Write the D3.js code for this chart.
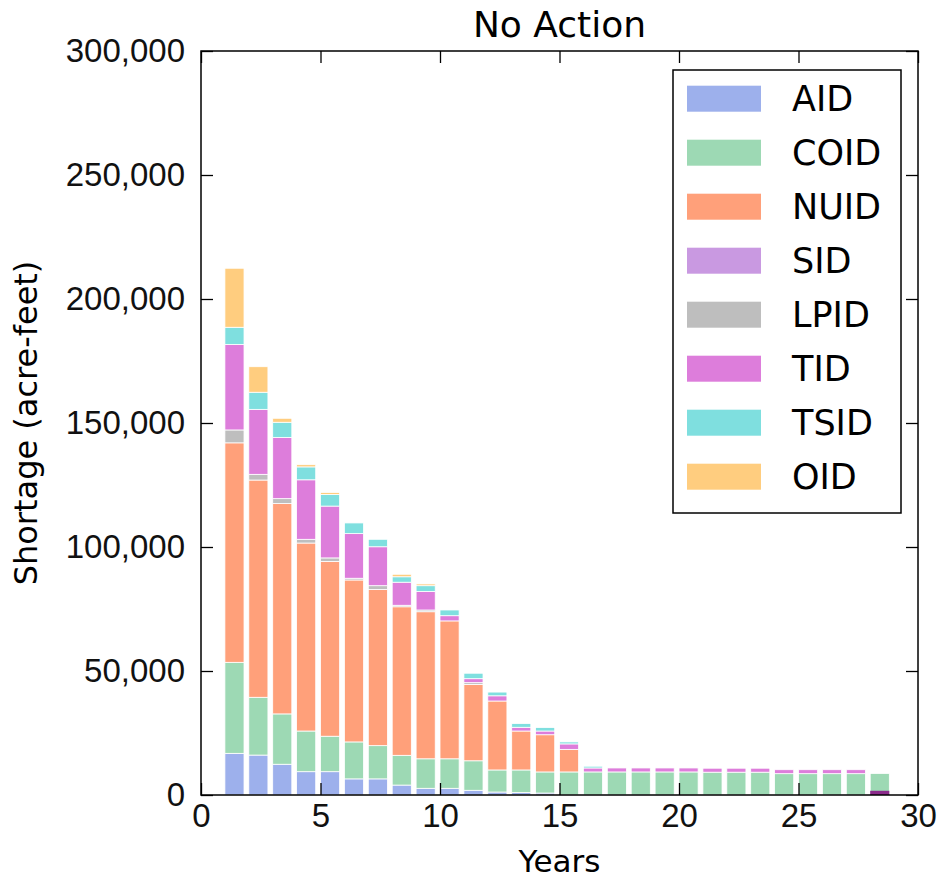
<!DOCTYPE html>
<html>
<head>
<meta charset="utf-8">
<script src="https://cdn.jsdelivr.net/npm/d3@7"></script>
<style>
  body { margin: 0; background: #fff; }
  svg { font-family: "DejaVu Sans", sans-serif; }
  .tick text { font-size: 33px; fill: #111; }
  .tick line { stroke: #000; stroke-width: 1.3; }
</style>
</head>
<body>
<div id="chart"></div>
<script>
var width = 940;
var height = 880;

// Plot area in pixels
var margin = {left: 201, right: 22, top: 51, bottom: 85};

// Districts, in stacking order
var districts = ["AID", "COID", "NUID", "SID", "LPID", "TID", "TSID", "OID"];
var colors = ["#9db0ec", "#9dd9b4", "#ffa07a", "#c999e1", "#bebebe", "#dd7ddb", "#7fdfdf", "#ffcd7f"];

var years = d3.range(1, 29);

// Shortage by district (acre-feet), one value per year 1..28
var aid  = [16800, 16100, 12400, 9400, 9400, 6500, 6500, 4000, 2700, 2700, 1900, 1200, 1000, 800, 0, 0, 0, 0, 0, 0, 0, 0, 0, 0, 0, 0, 0, 0];
var coid = [36700, 23300, 20300, 16400, 14300, 14900, 13400, 12000, 11900, 11900, 11900, 8900, 9100, 8500, 9300, 9300, 9300, 9300, 9300, 9300, 9200, 9200, 9200, 8600, 8600, 8600, 8600, 8700];
var nuid = [88500, 87600, 84800, 75800, 70500, 65300, 63000, 59900, 59300, 55600, 30800, 27800, 15700, 15000, 9100, 0, 0, 0, 0, 0, 0, 0, 0, 0, 0, 0, 0, 0];
var sid  = [0, 0, 0, 0, 0, 0, 0, 0, 0, 0, 0, 0, 0, 0, 0, 0, 0, 0, 0, 0, 0, 0, 0, 0, 0, 0, 0, 0];
var lpid = [5200, 2300, 2000, 1500, 1400, 700, 1500, 600, 700, 0, 700, 0, 0, 0, 0, 0, 0, 0, 0, 0, 0, 0, 0, 0, 0, 0, 0, 0];
var tid  = [34500, 26200, 24700, 24000, 20900, 18000, 15700, 9300, 7500, 2100, 1600, 2100, 1500, 1500, 2200, 1600, 1600, 1600, 1600, 1600, 1600, 1600, 1600, 1600, 1600, 1600, 1600, 0];
var tsid = [6900, 6900, 6100, 5200, 4700, 4300, 3000, 2200, 2300, 2300, 2200, 1500, 1500, 1400, 800, 700, 0, 0, 0, 0, 0, 0, 0, 0, 0, 0, 0, 0];
var oid  = [23800, 10300, 1600, 900, 800, 0, 0, 1000, 700, 0, 0, 0, 0, 0, 0, 0, 0, 0, 0, 0, 0, 0, 0, 0, 0, 0, 0, 0];

// Last year: a small TID shortage sits at the base of the bar (overlapping COID)
var overlapYears = [28];
var overlapValues = [1700];

var series = [aid, coid, nuid, sid, lpid, tid, tsid, oid];

var xTicks = [0, 5, 10, 15, 20, 25, 30];
var yTicks = [0, 50000, 100000, 150000, 200000, 250000, 300000];

// Build rows for d3.stack
var rows = years.map(function(y, i) {
  var row = {year: y};
  districts.forEach(function(name, k) { row[name] = series[k][i]; });
  return row;
});

var svg = d3.select("#chart").append("svg")
    .attr("width", width)
    .attr("height", height);

var x = d3.scaleLinear().domain([0, 30]).range([margin.left, width - margin.right]);
var y = d3.scaleLinear().domain([0, 300000]).range([height - margin.bottom, margin.top]);

var barWidth = 0.8;

var stacked = d3.stack().keys(districts)(rows);

svg.append("g")
  .selectAll("g")
  .data(stacked)
  .join("g")
    .attr("fill", function(d, k) { return colors[k]; })
  .selectAll("rect")
  .data(function(d) { return d.filter(function(p) { return p[1] - p[0] > 0; }); })
  .join("rect")
    .attr("x", function(d) { return x(d.data.year); })
    .attr("width", function(d) { return x(d.data.year + barWidth) - x(d.data.year); })
    .attr("y", function(d) { return y(d[1]); })
    .attr("height", function(d) { return y(d[0]) - y(d[1]); })
    .attr("stroke", "#fff")
    .attr("stroke-width", 0.8);

// Overlapping TID at the bar base
svg.append("g")
  .selectAll("rect")
  .data(overlapYears)
  .join("rect")
    .attr("x", function(d) { return x(d); })
    .attr("width", function(d) { return x(d + barWidth) - x(d); })
    .attr("y", function(d, i) { return y(overlapValues[i]); })
    .attr("height", function(d, i) { return y(0) - y(overlapValues[i]); })
    .attr("fill", "#8b2a8b");

// Axes, ticks pointing inward on all sides
var plotBottom = height - margin.bottom;
var plotRight = width - margin.right;

svg.append("g")
    .attr("transform", "translate(0," + plotBottom + ")")
    .call(d3.axisBottom(x).tickValues(xTicks).tickSizeInner(-12).tickSizeOuter(0).tickPadding(9))
    .call(function(g) { g.select(".domain").remove(); });

svg.append("g")
    .attr("transform", "translate(0," + margin.top + ")")
    .call(d3.axisTop(x).tickValues(xTicks).tickSizeInner(-12).tickSizeOuter(0).tickFormat(""))
    .call(function(g) { g.select(".domain").remove(); });

svg.append("g")
    .attr("transform", "translate(" + margin.left + ",0)")
    .call(d3.axisLeft(y).tickValues(yTicks).tickSizeInner(-12).tickSizeOuter(0).tickPadding(16).tickFormat(d3.format(",")))
    .call(function(g) { g.select(".domain").remove(); });

svg.append("g")
    .attr("transform", "translate(" + plotRight + ",0)")
    .call(d3.axisRight(y).tickValues(yTicks).tickSizeInner(-12).tickSizeOuter(0).tickFormat(""))
    .call(function(g) { g.select(".domain").remove(); });

// Frame
svg.append("rect")
    .attr("x", margin.left)
    .attr("y", margin.top)
    .attr("width", plotRight - margin.left)
    .attr("height", plotBottom - margin.top)
    .attr("fill", "none")
    .attr("stroke", "#000")
    .attr("stroke-width", 1.5);

// Title and axis labels
svg.append("text")
    .attr("x", (margin.left + plotRight) / 2)
    .attr("y", 37)
    .attr("text-anchor", "middle")
    .attr("font-size", 36)
    .text("No Action");

svg.append("text")
    .attr("x", (margin.left + plotRight) / 2)
    .attr("y", 872)
    .attr("text-anchor", "middle")
    .attr("font-size", 31)
    .text("Years");

svg.append("text")
    .attr("transform", "translate(37," + (margin.top + plotBottom) / 2 + ") rotate(-90)")
    .attr("text-anchor", "middle")
    .attr("font-size", 32)
    .text("Shortage (acre-feet)");

// Legend
var legend = svg.append("g");

legend.append("rect")
    .attr("x", 673)
    .attr("y", 70)
    .attr("width", 228)
    .attr("height", 443)
    .attr("fill", "#fff")
    .attr("stroke", "#000")
    .attr("stroke-width", 1.5);

var items = legend.selectAll("g.item")
  .data(districts)
  .join("g")
    .attr("class", "item")
    .attr("transform", function(d, i) { return "translate(0," + (98.7 + i * 54) + ")"; });

items.append("rect")
    .attr("x", 687)
    .attr("y", -13)
    .attr("width", 74)
    .attr("height", 26)
    .attr("fill", function(d, i) { return colors[i]; });

items.append("text")
    .attr("x", 792)
    .attr("dy", "0.36em")
    .attr("font-size", 35)
    .text(function(d) { return d; });
</script>
</body>
</html>
